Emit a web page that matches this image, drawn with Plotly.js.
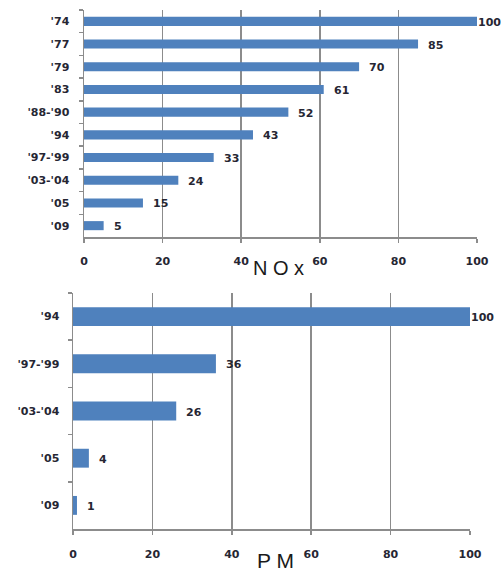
<!DOCTYPE html>
<html>
<head>
<meta charset="utf-8">
<script src="https://cdn.plot.ly/plotly-3.0.1.min.js"></script>
<style>html,body{margin:0;padding:0;background:#fff;}#chart{width:504px;height:571px;}</style>
</head>
<body>
<div id="chart"></div>
<script>
// ---- data ----
var noxCategories = ["'74", "'77", "'79", "'83", "'88-'90", "'94", "'97-'99", "'03-'04", "'05", "'09"];
var noxValues = [100, 85, 70, 61, 52, 43, 33, 24, 15, 5];
var pmCategories = ["'94", "'97-'99", "'03-'04", "'05", "'09"];
var pmValues = [100, 36, 26, 4, 1];
var xTickValues = [0, 20, 40, 60, 80, 100];
var noxTitle = "N O x";
var pmTitle = "P M";

// ---- style ----
var barColor = "#4F81BD";
var gridColor = "#8c8c8c";
var textColor = "#262633";
var tickFont = {family: "DejaVu Sans", size: 11, color: textColor, weight: "bold"};
var W = 504, H = 571;

function px2x(p) { return p / W; }
function px2y(p) { return 1 - p / H; }

var traces = [
  {type: "bar", orientation: "h", x: noxValues, y: noxCategories, xaxis: "x", yaxis: "y",
   marker: {color: barColor, line: {width: 0}}, width: 0.4, hoverinfo: "x+y"},
  {type: "bar", orientation: "h", x: pmValues, y: pmCategories, xaxis: "x2", yaxis: "y2",
   marker: {color: barColor, line: {width: 0}}, width: 0.4, hoverinfo: "x+y"}
];

function xAxis(domain, anchor, standoff) {
  return {
    domain: domain, anchor: anchor, range: [0, 100], tickvals: xTickValues,
    showgrid: true, gridcolor: gridColor, gridwidth: 1.5,
    zeroline: false, showline: true, linecolor: gridColor, linewidth: 1.5,
    ticks: "outside", ticklen: 4, tickcolor: gridColor, tickwidth: 1.5,
    tickfont: tickFont, ticklabelstandoff: standoff, fixedrange: true
  };
}
function yAxis(domain, anchor, cats, standoff) {
  return {
    domain: domain, anchor: anchor, type: "category",
    categoryorder: "array", categoryarray: cats,
    range: [cats.length - 0.5, -0.5],
    showgrid: false, zeroline: false, showline: true, linecolor: gridColor, linewidth: 1.5,
    ticks: "outside", tickson: "boundaries", ticklen: 4, tickcolor: gridColor, tickwidth: 1.5,
    tickfont: tickFont, ticklabelstandoff: standoff, fixedrange: true
  };
}

var annotations = [];
function addLabels(vals, cats, xr, yr) {
  for (var i = 0; i < vals.length; i++) {
    annotations.push({
      x: vals[i], y: cats[i], xref: xr, yref: yr, text: String(vals[i]),
      showarrow: false, xanchor: "left", yanchor: "middle",
      xshift: vals[i] >= 100 ? -1 : 8, yshift: -1,
      font: {family: "DejaVu Sans", size: 11, color: textColor, weight: "bold"}
    });
  }
}
addLabels(noxValues, noxCategories, "x", "y");
addLabels(pmValues, pmCategories, "x2", "y2");

annotations.push({text: noxTitle, xref: "paper", yref: "paper", x: px2x(278), y: px2y(268),
  xanchor: "center", yanchor: "middle", showarrow: false,
  font: {family: "Liberation Sans", size: 20, color: "#1a1a1a"}});
annotations.push({text: pmTitle, xref: "paper", yref: "paper", x: px2x(275), y: px2y(560),
  xanchor: "center", yanchor: "middle", showarrow: false,
  font: {family: "Liberation Sans", size: 21, color: "#1a1a1a"}});

var layout = {
  width: W, height: H, margin: {l: 0, r: 0, t: 0, b: 0},
  paper_bgcolor: "#fff", plot_bgcolor: "#fff", showlegend: false,
  xaxis: xAxis([px2x(84), px2x(477)], "y", 9),
  yaxis: yAxis([px2y(237), px2y(10)], "x", noxCategories, 11),
  xaxis2: xAxis([px2x(73), px2x(470)], "y2", 10),
  yaxis2: yAxis([px2y(529), px2y(293)], "x2", pmCategories, 10),
  annotations: annotations
};

Plotly.newPlot("chart", traces, layout, {displayModeBar: false, staticPlot: true});
</script>
</body>
</html>
